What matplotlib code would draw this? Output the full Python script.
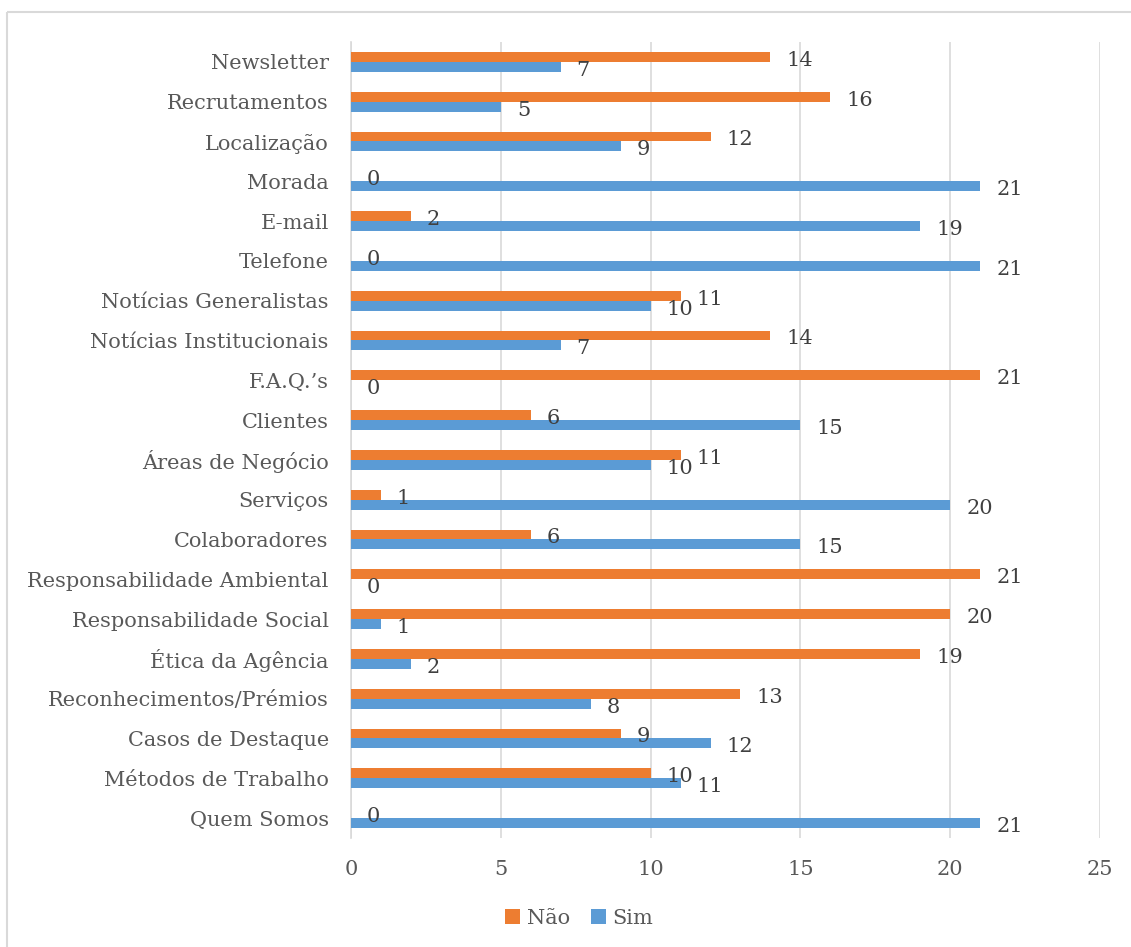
import matplotlib
matplotlib.use("Agg")
import matplotlib.pyplot as plt
from matplotlib.patches import Patch, Rectangle
from matplotlib.transforms import offset_copy
import numpy as np

# Website content items, listed bottom to top as drawn on the y axis
categories = [
    "Quem Somos", "Métodos de Trabalho", "Casos de Destaque",
    "Reconhecimentos/Prémios", "Ética da Agência", "Responsabilidade Social",
    "Responsabilidade Ambiental", "Colaboradores", "Serviços",
    "Áreas de Negócio", "Clientes", "F.A.Q.’s", "Notícias Institucionais",
    "Notícias Generalistas", "Telefone", "E-mail", "Morada",
    "Localização", "Recrutamentos", "Newsletter",
]
nao = [0, 10, 9, 13, 19, 20, 21, 6, 1, 11, 6, 21, 14, 11, 0, 2, 0, 12, 16, 14]
sim = [21, 11, 12, 8, 2, 1, 0, 15, 20, 10, 15, 0, 7, 10, 21, 19, 21, 9, 5, 7]
x_ticks = [0, 5, 10, 15, 20, 25]
series_names = ["Não", "Sim"]

ORANGE = "#ED7D31"
BLUE = "#5B9BD5"
GRID = "#D9D9D9"
TEXT = "#595959"
LABEL = "#404040"
FONT = "DejaVu Serif"
FS = 15

W, H = 1131, 947
fig = plt.figure(figsize=(W / 100, H / 100), dpi=100)

# outer chart frame
fig.patches.append(Rectangle((7 / W, 1 - 12 / H), 2, -2, transform=fig.transFigure,
                             fill=False, edgecolor=GRID, linewidth=1.5))

left, right, top, bottom = 351, 1100, 42, 838
ax = fig.add_axes([left / W, 1 - bottom / H, (right - left) / W, (bottom - top) / H])

y = np.arange(len(categories))
bh = 0.25
b_nao = ax.barh(y + bh / 2, nao, height=bh, color=ORANGE, zorder=3)
b_sim = ax.barh(y - bh / 2, sim, height=bh, color=BLUE, zorder=3)

ax.set_xlim(0, 25)
ax.set_ylim(-0.5, len(categories) - 0.5)
ax.set_xticks(x_ticks)
ax.set_xticklabels([str(t) for t in x_ticks], fontfamily=FONT, fontsize=FS, color=TEXT)
ax.set_yticks(y)
ax.set_yticklabels(categories, fontfamily=FONT, fontsize=FS, color=TEXT)
ax.tick_params(axis="both", length=0)
ax.tick_params(axis="y", pad=16)
ax.tick_params(axis="x", pad=16)
for s in ["top", "right", "bottom"]:
    ax.spines[s].set_visible(False)
ax.spines["left"].set_color(GRID)
ax.spines["left"].set_linewidth(1.2)
ax.grid(axis="x", color=GRID, linewidth=1.2, zorder=0)
ax.set_axisbelow(True)

# value labels just past the end of each bar
for bars, vals in ((b_nao, nao), (b_sim, sim)):
    for rect, v in zip(bars, vals):
        cy = rect.get_y() + rect.get_height() / 2
        tr = offset_copy(ax.transData, fig=fig, x=11.5, y=-2.5, units="points")
        ax.text(v, cy, str(v), transform=tr, ha="left", va="center",
                fontfamily=FONT, fontsize=FS, color=LABEL, zorder=4)

handles = [Patch(facecolor=ORANGE), Patch(facecolor=BLUE)]
fig.legend(handles, series_names, loc="center", bbox_to_anchor=(579 / W, 1 - 918 / H),
           ncol=2, frameon=False, prop={"family": FONT, "size": FS},
           handlelength=0.75, handleheight=0.75, handletextpad=0.3, columnspacing=1.0,
           labelcolor=TEXT)

fig.savefig("out.png", dpi=100)
